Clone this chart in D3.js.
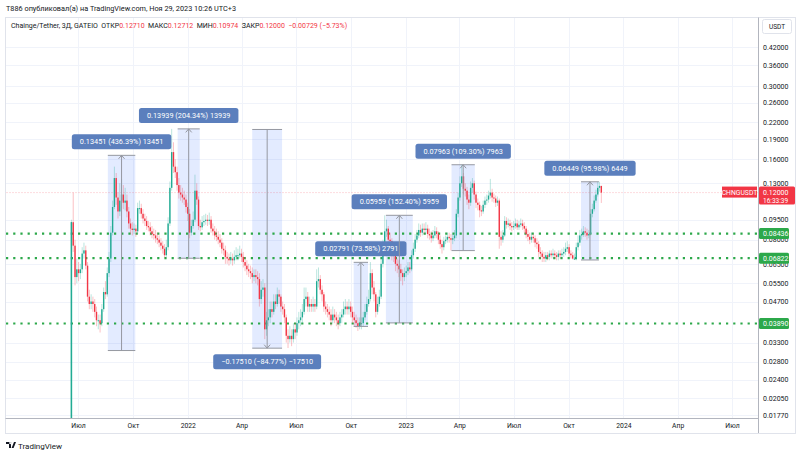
<!DOCTYPE html>
<html><head><meta charset="utf-8">
<script src="https://cdn.jsdelivr.net/npm/d3@7"></script>
<style>body{margin:0;background:#fff}svg{display:block;font-family:Roboto,"Noto Sans",sans-serif}</style>
</head><body><svg id="c" width="800" height="456"></svg>
<script>
// ---------------- DATA ----------------
const startDate = "2021-06-20";   // first 3-day candle
const stepDays = 3;
const firstOpen = 0.015;
const closes = [
0.093,0.076,0.058,0.062,0.060,0.062,0.071,0.073,0.064,0.049,
0.046,0.047,0.046,0.043,0.040,0.040,0.039,0.044,0.051,0.050,
0.060,0.068,0.085,0.106,0.136,0.115,0.102,0.112,0.118,0.110,
0.112,0.102,0.092,0.088,0.087,0.088,0.086,0.105,0.105,0.100,
0.096,0.094,0.090,0.089,0.086,0.084,0.083,0.081,0.080,0.078,
0.076,0.074,0.070,0.075,0.092,0.125,0.170,0.150,0.143,0.128,
0.120,0.118,0.115,0.113,0.106,0.100,0.085,0.090,0.095,0.122,
0.113,0.090,0.089,0.093,0.094,0.095,0.094,0.095,0.088,0.086,
0.083,0.082,0.080,0.078,0.074,0.073,0.069,0.068,0.067,0.068,
0.067,0.069,0.070,0.070,0.071,0.069,0.066,0.064,0.062,0.061,
0.060,0.058,0.059,0.058,0.057,0.048,0.052,0.053,0.037,0.040,
0.041,0.044,0.043,0.047,0.046,0.050,0.049,0.045,0.044,0.041,
0.035,0.034,0.035,0.034,0.037,0.036,0.039,0.040,0.041,0.043,
0.048,0.049,0.045,0.046,0.045,0.046,0.045,0.056,0.057,0.052,
0.050,0.045,0.044,0.043,0.042,0.040,0.042,0.041,0.040,0.039,
0.041,0.042,0.044,0.045,0.044,0.045,0.043,0.041,0.040,0.039,
0.038,0.039,0.039,0.041,0.043,0.046,0.048,0.060,0.053,0.050,
0.043,0.046,0.049,0.065,0.075,0.086,0.088,0.080,0.079,0.071,
0.070,0.065,0.064,0.062,0.060,0.058,0.060,0.061,0.063,0.062,
0.070,0.074,0.080,0.083,0.087,0.085,0.088,0.087,0.088,0.084,
0.083,0.081,0.083,0.086,0.084,0.080,0.077,0.075,0.079,0.080,
0.082,0.081,0.080,0.081,0.083,0.100,0.115,0.130,0.138,0.124,
0.122,0.113,0.110,0.125,0.130,0.118,0.110,0.108,0.103,0.102,
0.108,0.112,0.113,0.117,0.120,0.115,0.114,0.110,0.112,0.082,
0.080,0.083,0.094,0.091,0.092,0.090,0.089,0.090,0.092,0.089,
0.091,0.092,0.090,0.088,0.084,0.082,0.080,0.082,0.081,0.078,
0.077,0.072,0.071,0.069,0.068,0.070,0.069,0.071,0.070,0.071,
0.070,0.069,0.071,0.070,0.071,0.072,0.074,0.075,0.071,0.070,
0.068,0.068,0.075,0.078,0.083,0.084,0.086,0.085,0.083,0.084,
0.100,0.104,0.112,0.118,0.125,0.1271,0.1200];
const highs = [
0.095,0.120,0.080,0.068,0.066,0.065,0.075,0.078,0.076,0.066,
0.052,0.050,0.049,0.048,0.045,0.042,0.042,0.046,0.053,0.056,
0.063,0.072,0.090,0.112,0.150,0.142,0.120,0.130,0.135,0.128,
0.125,0.118,0.106,0.096,0.093,0.092,0.091,0.110,0.112,0.109,
0.104,0.100,0.098,0.094,0.093,0.090,0.088,0.087,0.085,0.083,
0.081,0.079,0.077,0.080,0.097,0.132,0.2076,0.185,0.160,0.150,
0.136,0.128,0.125,0.122,0.118,0.110,0.104,0.095,0.102,0.140,
0.130,0.116,0.095,0.098,0.099,0.100,0.099,0.101,0.098,0.092,
0.090,0.088,0.086,0.084,0.081,0.078,0.076,0.072,0.071,0.072,
0.071,0.073,0.075,0.074,0.076,0.074,0.072,0.069,0.067,0.065,
0.064,0.063,0.062,0.062,0.061,0.060,0.056,0.057,0.055,0.043,
0.044,0.047,0.047,0.050,0.050,0.053,0.052,0.050,0.047,0.046,
0.042,0.037,0.038,0.037,0.039,0.039,0.041,0.043,0.044,0.046,
0.053,0.053,0.051,0.049,0.048,0.049,0.048,0.062,0.063,0.059,
0.054,0.051,0.047,0.046,0.045,0.044,0.045,0.044,0.043,0.042,
0.043,0.044,0.047,0.048,0.047,0.048,0.047,0.045,0.043,0.042,
0.041,0.041,0.041,0.043,0.046,0.049,0.052,0.066,0.062,0.056,
0.051,0.049,0.052,0.069,0.080,0.0987,0.095,0.090,0.085,0.081,
0.075,0.072,0.068,0.067,0.065,0.062,0.063,0.064,0.066,0.066,
0.073,0.078,0.084,0.087,0.092,0.091,0.092,0.092,0.093,0.091,
0.088,0.086,0.087,0.090,0.089,0.086,0.083,0.080,0.082,0.083,
0.085,0.085,0.084,0.084,0.087,0.104,0.120,0.138,0.1525,0.142,
0.130,0.126,0.118,0.132,0.136,0.133,0.121,0.114,0.111,0.107,
0.112,0.116,0.118,0.122,0.135,0.124,0.119,0.117,0.116,0.114,
0.086,0.087,0.098,0.097,0.096,0.095,0.093,0.094,0.096,0.095,
0.094,0.096,0.095,0.093,0.090,0.087,0.085,0.085,0.084,0.083,
0.081,0.079,0.075,0.073,0.072,0.072,0.072,0.073,0.073,0.074,
0.073,0.072,0.073,0.073,0.074,0.075,0.078,0.079,0.077,0.073,
0.072,0.071,0.078,0.083,0.087,0.088,0.090,0.089,0.088,0.087,
0.104,0.109,0.117,0.123,0.1317,0.1317,0.12712];
const lows = [
0.012,0.072,0.054,0.055,0.056,0.057,0.060,0.068,0.062,0.047,
0.044,0.044,0.043,0.041,0.038,0.037,0.036,0.038,0.043,0.048,
0.049,0.058,0.066,0.083,0.104,0.108,0.096,0.098,0.105,0.104,
0.103,0.097,0.088,0.084,0.083,0.084,0.082,0.084,0.100,0.096,
0.092,0.090,0.087,0.086,0.083,0.081,0.080,0.078,0.077,0.075,
0.073,0.071,0.0685,0.069,0.073,0.090,0.122,0.142,0.136,0.122,
0.114,0.112,0.110,0.108,0.101,0.094,0.081,0.083,0.088,0.093,
0.108,0.087,0.086,0.087,0.090,0.091,0.090,0.091,0.085,0.083,
0.080,0.079,0.077,0.075,0.071,0.070,0.065,0.065,0.064,0.065,
0.064,0.065,0.067,0.067,0.068,0.066,0.063,0.061,0.059,0.058,
0.057,0.055,0.056,0.055,0.054,0.045,0.046,0.049,0.034,0.035,
0.038,0.039,0.041,0.042,0.044,0.045,0.046,0.043,0.042,0.039,
0.033,0.0315,0.033,0.032,0.033,0.034,0.035,0.037,0.038,0.039,
0.042,0.045,0.043,0.043,0.043,0.043,0.043,0.044,0.053,0.050,
0.047,0.043,0.042,0.041,0.040,0.038,0.039,0.039,0.038,0.037,
0.038,0.039,0.041,0.042,0.042,0.042,0.041,0.039,0.038,0.0375,
0.0365,0.037,0.037,0.038,0.040,0.042,0.045,0.047,0.050,0.047,
0.041,0.042,0.045,0.048,0.063,0.073,0.082,0.076,0.075,0.067,
0.066,0.061,0.060,0.058,0.056,0.054,0.056,0.058,0.059,0.060,
0.061,0.068,0.072,0.078,0.081,0.082,0.083,0.084,0.084,0.081,
0.080,0.078,0.079,0.081,0.081,0.077,0.074,0.071,0.073,0.077,
0.078,0.078,0.0729,0.077,0.079,0.081,0.097,0.112,0.126,0.118,
0.116,0.108,0.104,0.107,0.120,0.113,0.105,0.103,0.097,0.098,
0.100,0.105,0.108,0.110,0.114,0.111,0.110,0.106,0.107,0.074,
0.076,0.078,0.082,0.088,0.089,0.087,0.086,0.087,0.088,0.087,
0.087,0.089,0.087,0.085,0.081,0.079,0.077,0.078,0.078,0.075,
0.074,0.069,0.068,0.066,0.066,0.066,0.067,0.067,0.068,0.068,
0.068,0.067,0.067,0.068,0.068,0.069,0.070,0.072,0.069,0.068,
0.0675,0.0672,0.067,0.073,0.076,0.080,0.082,0.082,0.080,0.081,
0.083,0.097,0.102,0.110,0.116,0.121,0.10974];

const priceTicks = [0.42,0.36,0.30,0.26,0.22,0.19,0.16,0.13,0.095,0.08,0.065,0.055,0.047,0.033,0.028,0.024,0.0205,0.0177];
const timeTickDates = ["2021-07-01","2021-10-01","2022-01-01","2022-04-01","2022-07-01","2022-10-01","2023-01-01","2023-04-01","2023-07-01","2023-10-01","2024-01-01","2024-04-01","2024-07-01"];
const timeTickLabels = ["Июл","Окт","2022","Апр","Июл","Окт","2023","Апр","Июл","Окт","2024","Апр","Июл"];
const levelPrices = [0.08436, 0.06822, 0.03890];
const lastPrice = 0.12000, lastCountdown = "16:33:39", symbol = "CHNGUSDT";
// price-range measurements: [startDate, endDate, fromPrice, toPrice, label]
const ranges = [
 ["2021-08-20","2021-10-05",0.030823,0.16533,"0.13451 (436.39%) 13451"],
 ["2021-12-15","2022-01-21",0.068215,0.20760,"0.13939 (204.34%) 13939"],
 ["2022-04-19","2022-06-08",0.20656,0.03146,"\u22120.17510 (\u221284.77%) \u221217510"],
 ["2022-10-06","2022-10-30",0.03793,0.06584,"0.02791 (73.58%) 2791"],
 ["2022-11-29","2023-01-13",0.03910,0.09869,"0.05959 (152.40%) 5959"],
 ["2023-03-19","2023-04-27",0.07285,0.15248,"0.07963 (109.30%) 7963"],
 ["2023-10-22","2023-11-21",0.06719,0.13168,"0.06449 (95.98%) 6449"]
];
const headerText = "T886 опубликовал(а) на TradingView.com, Ноя 29, 2023 10:26 UTC+3";
const legendParts = [["Chainge/Tether, 3Д, GATEIO  ОТКР","#131722"],["0.12710","#f23645"],["  МАКС","#131722"],["0.12712","#f23645"],["  МИН","#131722"],["0.10974","#f23645"],["  ЗАКР","#131722"],["0.12000","#f23645"],["  \u22120.00729 (\u22125.73%)","#f23645"]];

// ---------------- LAYOUT ----------------
const L = 6, R = 758, T = 18, B = 418, AX = 795, TB = 433;
const UP = "#22ab94", DN = "#f23645", GRID = "#f0f3fa", LVL = "#2ca84a";
const parse = d3.utcParse("%Y-%m-%d");
const svg = d3.select("#c");

const x = d3.scaleUtc().domain([parse("2021-07-01"), parse("2024-07-01")]).range([78, 732]);
const y = d3.scaleLog().domain([0.0177, 0.42]).range([415, 47]);

const t0 = parse(startDate);
const candles = closes.map((c, i) => ({
  date: d3.utcDay.offset(t0, i * stepDays),
  open: i === 0 ? firstOpen : closes[i - 1], close: c, high: highs[i], low: lows[i]
}));

// header
svg.append("text").attr("x", 6).attr("y", 11).attr("font-size", 7.3).attr("fill", "#131722").text(headerText);
// frame
svg.append("rect").attr("x", 5.5).attr("y", 17.5).attr("width", AX - 5).attr("height", TB - 17).attr("fill", "none").attr("stroke", "#e0e3eb");

// grid
const gridG = svg.append("g");
gridG.selectAll("line.h").data(priceTicks).join("line")
  .attr("x1", L).attr("x2", R).attr("y1", d => Math.round(y(d)) + 0.5).attr("y2", d => Math.round(y(d)) + 0.5)
  .attr("stroke", GRID);
gridG.selectAll("line.v").data(timeTickDates).join("line")
  .attr("y1", T).attr("y2", B).attr("x1", d => Math.round(x(parse(d))) + 0.5).attr("x2", d => Math.round(x(parse(d))) + 0.5)
  .attr("stroke", GRID);

// legend
const lg = svg.append("text").attr("x", 11).attr("y", 28).attr("font-size", 7).attr("xml:space", "preserve");
legendParts.forEach(p => lg.append("tspan").attr("fill", p[1]).text(p[0]));

// plot clip
svg.append("clipPath").attr("id", "pc").append("rect").attr("x", L).attr("y", T).attr("width", R - L).attr("height", B - T);
const plot = svg.append("g").attr("clip-path", "url(#pc)");

// range boxes (fill)
const rg = plot.append("g");
ranges.forEach(r => {
  const x1 = x(parse(r[0])), x2 = x(parse(r[1]));
  const yA = y(r[2]), yB = y(r[3]);
  rg.append("rect").attr("x", x1).attr("width", x2 - x1).attr("y", Math.min(yA, yB)).attr("height", Math.abs(yA - yB))
    .attr("fill", "rgba(41,98,255,0.13)");
});

// current price line
plot.append("line").attr("x1", L).attr("x2", R).attr("y1", y(lastPrice)).attr("y2", y(lastPrice))
  .attr("stroke", "rgba(242,54,69,0.22)").attr("stroke-width", 0.8).attr("stroke-dasharray", "2,1");

// level lines
plot.selectAll("line.lvl").data(levelPrices).join("line")
  .attr("x1", L).attr("x2", R).attr("y1", d => y(d)).attr("y2", d => y(d))
  .attr("stroke", LVL).attr("stroke-width", 2.2).attr("stroke-dasharray", "2.2,5");

// candles
const cg = plot.append("g");
cg.selectAll("line.w").data(candles).join("line")
  .attr("x1", d => x(d.date)).attr("x2", d => x(d.date))
  .attr("y1", d => y(d.high)).attr("y2", d => y(d.low))
  .attr("stroke", d => d.close >= d.open ? UP : DN).attr("stroke-opacity", 0.35).attr("stroke-width", 0.9);
cg.selectAll("rect").data(candles).join("rect")
  .attr("x", d => x(d.date) - 0.7).attr("width", 1.4)
  .attr("y", d => Math.min(y(d.open), y(d.close)))
  .attr("height", d => Math.max(1, Math.abs(y(d.open) - y(d.close))))
  .attr("fill", d => d.close >= d.open ? UP : DN);
// first candle long green wick (full opacity as in reference)
cg.append("line").attr("x1", x(candles[0].date)).attr("x2", x(candles[0].date))
  .attr("y1", y(candles[0].close)).attr("y2", y(candles[0].low)).attr("stroke", UP).attr("stroke-width", 1.2);

// range box borders, arrows, labels
const ag = svg.append("g");
ranges.forEach(r => {
  const x1 = x(parse(r[0])), x2 = x(parse(r[1])), cx = (x1 + x2) / 2;
  const yA = y(r[2]), yB = y(r[3]);
  [yA, yB].forEach(yy => ag.append("line").attr("x1", x1).attr("x2", x2).attr("y1", yy).attr("y2", yy).attr("stroke", "#9598a1").attr("stroke-width", 1));
  ag.append("line").attr("x1", cx).attr("x2", cx).attr("y1", yA).attr("y2", yB).attr("stroke", "#9598a1").attr("stroke-width", 1);
  const dir = yB < yA ? 1 : -1;
  ag.append("path").attr("d", `M${cx - 3},${yB + dir * 3.5}L${cx},${yB}L${cx + 3},${yB + dir * 3.5}`)
    .attr("fill", "none").attr("stroke", "#9598a1").attr("stroke-width", 1);
  const ly = dir === 1 ? yB - 13.5 : yB + 13.5;
  const lgG = ag.append("g");
  const tx = lgG.append("text").attr("x", cx).attr("y", ly + 2.6).attr("text-anchor", "middle")
    .attr("font-size", 7.3).attr("fill", "#fff").text(r[4]);
  const w = tx.node().getComputedTextLength() + 16;
  lgG.insert("rect", "text").attr("x", cx - w / 2).attr("y", ly - 7.5).attr("width", w).attr("height", 15)
    .attr("rx", 2.5).attr("fill", "#5b7fbd");
});

// axes separators
svg.append("line").attr("x1", R + 0.5).attr("x2", R + 0.5).attr("y1", 17.5).attr("y2", TB).attr("stroke", "#b2b5be");
svg.append("line").attr("x1", 5.5).attr("x2", R).attr("y1", B + 0.5).attr("y2", B + 0.5).attr("stroke", "#b2b5be");

// price axis
const pa = svg.append("g").attr("transform", `translate(${R},0)`)
  .call(d3.axisRight(y).tickValues(priceTicks).tickFormat(d3.format(".5f")).tickSize(0).tickPadding(5));
pa.select(".domain").remove();
pa.selectAll("text").attr("font-size", 7).attr("fill", "#131722").attr("font-family", "Roboto,sans-serif");

// USDT box
svg.append("rect").attr("x", 762.5).attr("y", 19.5).attr("width", 29).attr("height", 14).attr("rx", 2).attr("fill", "#fff").attr("stroke", "#e0e3eb");
svg.append("text").attr("x", 777).attr("y", 29).attr("text-anchor", "middle").attr("font-size", 6.5).attr("fill", "#131722").text("USDT");

// time axis
const ta = svg.append("g").attr("transform", `translate(0,${B})`)
  .call(d3.axisBottom(x).tickValues(timeTickDates.map(parse)).tickFormat((d, i) => timeTickLabels[i]).tickSize(0).tickPadding(5));
ta.select(".domain").remove();
ta.selectAll("text").attr("font-size", 6.8).attr("fill", "#131722").attr("font-family", "Roboto,sans-serif");

// level labels on axis
levelPrices.forEach(p => {
  const yy = y(p);
  svg.append("rect").attr("x", R + 1).attr("y", yy - 5.5).attr("width", 30).attr("height", 11).attr("rx", 1.5).attr("fill", LVL);
  svg.append("text").attr("x", R + 5).attr("y", yy + 2.5).attr("font-size", 7).attr("fill", "#fff").text(d3.format(".5f")(p));
});

// current price labels
const yl = y(lastPrice);
svg.append("rect").attr("x", R + 1).attr("y", yl - 6).attr("width", 36).attr("height", 18).attr("rx", 1.5).attr("fill", DN);
svg.append("text").attr("x", R + 5).attr("y", yl + 2.5).attr("font-size", 7).attr("fill", "#fff").text(d3.format(".5f")(lastPrice));
svg.append("text").attr("x", R + 5).attr("y", yl + 10).attr("font-size", 6.5).attr("fill", "#fff").text(lastCountdown);
svg.append("rect").attr("x", 722).attr("y", yl - 6).attr("width", 35).attr("height", 11).attr("fill", DN);
svg.append("text").attr("x", 739.5).attr("y", yl + 2.3).attr("text-anchor", "middle").attr("font-size", 6.8).attr("fill", "#fff").text(symbol);

// TradingView logo
const logo = svg.append("g").attr("transform", "translate(6,442)");
logo.append("path").attr("d", "M0,0H5V6H3V2H0Z M5.6,6 L8,0 H10 L7.6,6Z M4.2,0 a1,1 0 1,0 0.01,0").attr("fill", "#131722");
svg.append("text").attr("x", 18).attr("y", 448.5).attr("font-size", 8).attr("fill", "#131722").text("TradingView");
</script></body></html>
